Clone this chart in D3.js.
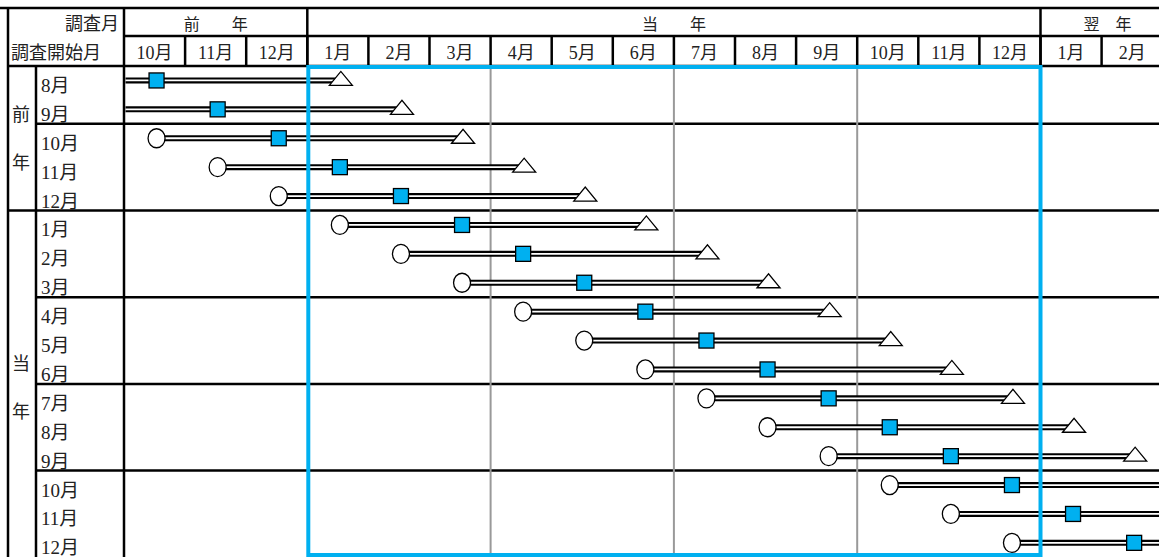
<!DOCTYPE html>
<html>
<head>
<meta charset="utf-8">
<script src="https://cdn.jsdelivr.net/npm/d3@7"></script>
<style>
  body { margin: 0; background: #fff; }
  svg text { font-family: "Liberation Serif", "DejaVu Serif", "Noto Sans CJK JP", serif; fill: #222; }
</style>
</head>
<body>
<div class="chart"></div>
<script>
// header: survey months (columns) and year groups
const monthLabels = ["10月", "11月", "12月", "1月", "2月", "3月", "4月", "5月", "6月",
                     "7月", "8月", "9月", "10月", "11月", "12月", "1月", "2月"];
const yearLabels = ["前　　年", "当　　年", "翌　年"];
const yearStart = [0, 3, 15];
const yearEnd = [3, 15, 17];

// rows: survey start month
const rowLabels = ["8月", "9月", "10月", "11月", "12月", "1月", "2月", "3月", "4月", "5月", "6月",
                   "7月", "8月", "9月", "10月", "11月", "12月"];
const groupLabels = ["前", "年", "当", "年"];
const groupRowStart = [0, 5];
const groupRowEnd = [5, 17];
const quarterBreaks = [2, 5, 8, 11, 14];     // row separators (before these rows)

// column index of each marker (0 = 10月 of previous year)
const startMonth = [-2, -1, 0, 1, 2, 3, 4, 5, 6, 7, 8, 9, 10, 11, 12, 13, 14];
const midMonth   = [0, 1, 2, 3, 4, 5, 6, 7, 8, 9, 10, 11, 12, 13, 14, 15, 16];
const endMonth   = [3, 4, 5, 6, 7, 8, 9, 10, 11, 12, 13, 14, 15, 16, 17, 18, 19];

// current year frame and quarter lines (column boundaries)
const frameCols = [3, 15];
const quarterCols = [6, 9, 12];

const W = 1159, H = 557;
const padL = 124, colW = 61.1, topY = 8, head1 = 36, head2 = 66, rowH = 28.9;
const blue = "#00b0f0";

const svg = d3.select(".chart").append("svg")
    .attr("width", W).attr("height", H);

const x = d3.scaleLinear().domain([0, 17]).range([padL, padL + 17 * colW]);
const y = d3.scaleBand().domain(d3.range(rowLabels.length))
    .range([head2, head2 + rowLabels.length * rowH]);
const bottomY = y.range()[1] + 6;
const cx = i => x(i + 0.5) + 2;
const cy = i => y(i) + y.bandwidth() / 2;

const lineG = svg.append("g").attr("stroke", "#000").attr("stroke-width", 2.5);
function hline(x1, x2, yy, g = lineG) { g.append("line").attr("x1", x1).attr("x2", x2).attr("y1", yy).attr("y2", yy); }
function vline(xx, y1, y2, g = lineG) { g.append("line").attr("x1", xx).attr("x2", xx).attr("y1", y1).attr("y2", y2); }

// ---- header ----
hline(0, W, topY);
hline(padL, W, head1);
hline(8, W, head2);
vline(8, topY, bottomY);
vline(padL, topY, bottomY);
vline(36, head2, bottomY);
yearStart.forEach(s => { if (s > 0) vline(x(s), topY, head2); });
d3.range(1, 17).forEach(i => vline(x(i), head1, head2));

svg.append("text").attr("x", 119).attr("y", 30).attr("text-anchor", "end")
    .attr("font-size", 18).text("調査月");
svg.append("text").attr("x", 11).attr("y", 59)
    .attr("font-size", 18).text("調査開始月");

svg.selectAll(".yr").data(yearLabels).join("text")
    .attr("x", (d, i) => (x(yearStart[i]) + x(yearEnd[i])) / 2 + (i === 2 ? 6 : 0))
    .attr("y", 30).attr("text-anchor", "middle").attr("font-size", 16)
    .text(d => d);

svg.selectAll(".mh").data(monthLabels).join("text")
    .attr("x", (d, i) => x(i + 0.5)).attr("y", 59)
    .attr("text-anchor", "middle").attr("font-size", 18)
    .text(d => d);

// ---- row grid ----
quarterBreaks.forEach(r => {
    const yy = y(r - 1) + y.bandwidth();
    hline(groupRowStart.includes(r) ? 8 : 36, W, yy);
});

svg.selectAll(".rl").data(rowLabels).join("text")
    .attr("x", 41).attr("y", (d, i) => y(i) + y.bandwidth() - 3)
    .attr("font-size", 19).text(d => d);

groupRowStart.forEach((s, g) => {
    const mid = (y(s) + (groupRowEnd[g] < rowLabels.length ? y(groupRowEnd[g]) : bottomY)) / 2;
    [-24, 24].forEach((off, k) => {
        svg.append("text").attr("x", 21).attr("y", mid + off + 7)
            .attr("text-anchor", "middle").attr("font-size", 18)
            .text(groupLabels[g * 2 + k]);
    });
});

// quarter lines inside the body
const grey = svg.append("g").attr("stroke", "#999").attr("stroke-width", 2);
quarterCols.forEach(c => vline(x(c), head2 + 1, bottomY, grey));

// ---- schedule bars ----
svg.append("clipPath").attr("id", "body")
    .append("rect").attr("x", padL + 1.5).attr("y", head2).attr("width", W).attr("height", H);
const body = svg.append("g").attr("clip-path", "url(#body)");

const rows = d3.range(rowLabels.length);
body.selectAll(".barO").data(rows).join("line")
    .attr("x1", i => cx(startMonth[i])).attr("x2", i => cx(endMonth[i]))
    .attr("y1", cy).attr("y2", cy)
    .attr("stroke", "#000").attr("stroke-width", 6);
body.selectAll(".barI").data(rows).join("line")
    .attr("x1", i => cx(startMonth[i])).attr("x2", i => cx(endMonth[i]))
    .attr("y1", cy).attr("y2", cy)
    .attr("stroke", "#fff").attr("stroke-width", 1.8);

body.selectAll(".st").data(rows).join("ellipse")
    .attr("cx", i => cx(startMonth[i])).attr("cy", cy)
    .attr("rx", 8.5).attr("ry", 9.5)
    .attr("fill", "#fff").attr("stroke", "#000").attr("stroke-width", 1.3);

body.selectAll(".md").data(rows).join("rect")
    .attr("x", i => cx(midMonth[i]) - 7.5).attr("y", i => cy(i) - 7.5)
    .attr("width", 15).attr("height", 15)
    .attr("fill", blue).attr("stroke", "#000").attr("stroke-width", 1.3);

body.selectAll(".en").data(rows).join("path")
    .attr("transform", i => `translate(${cx(endMonth[i]) + 1},${cy(i)})`)
    .attr("d", "M-11.5,5L0,-9L11.5,5Z")
    .attr("fill", "#fff").attr("stroke", "#000").attr("stroke-width", 1.3);

// current-year frame
svg.append("rect")
    .attr("x", x(frameCols[0]) + 1).attr("y", head2 + 1)
    .attr("width", x(frameCols[1]) - x(frameCols[0]) - 1)
    .attr("height", 555 - head2 - 1)
    .attr("fill", "none").attr("stroke", blue).attr("stroke-width", 4);
</script>
</body>
</html>
